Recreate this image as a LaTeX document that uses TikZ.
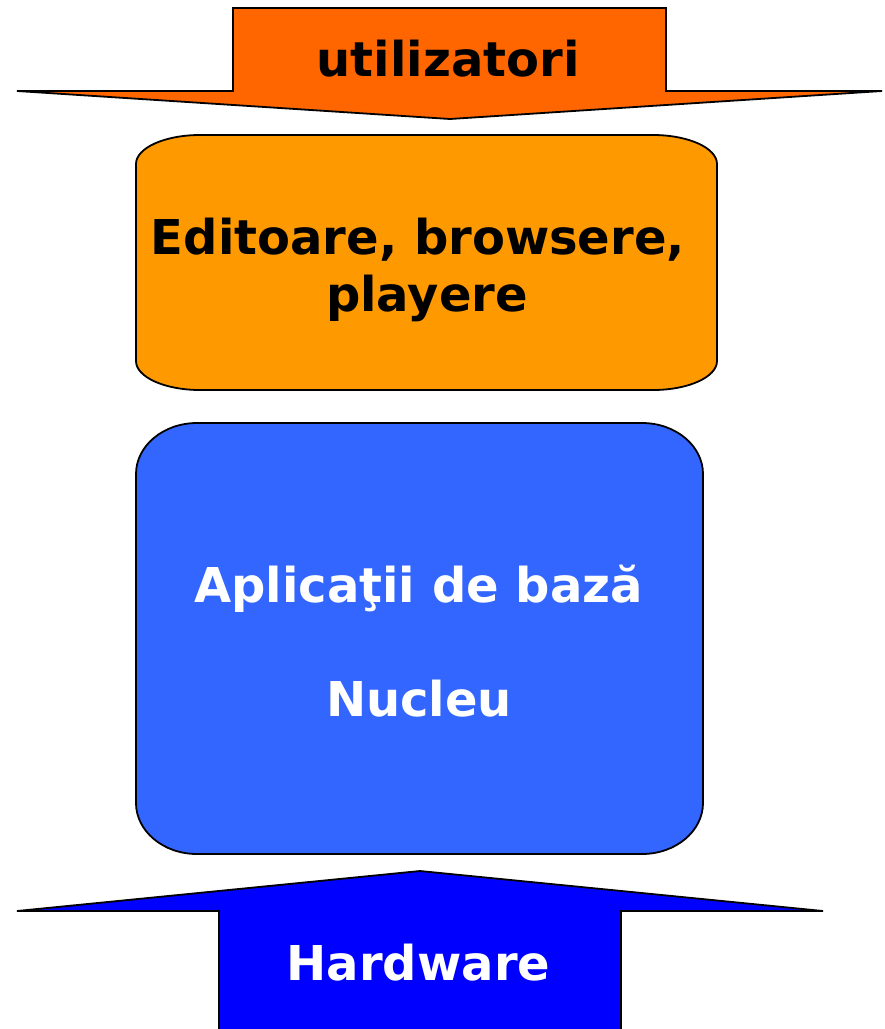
\documentclass[tikz,border=0pt]{standalone}
\usepackage{fontspec}
\setmainfont{DejaVu Sans}
\definecolor{arrowOrange}{HTML}{FF6600}
\definecolor{boxOrange}{HTML}{FF9900}
\definecolor{boxBlue}{HTML}{3366FF}
\definecolor{arrowBlue}{HTML}{0000FF}
\tikzset{
  shapeline/.style={draw=black, line width=1.8pt, line join=miter},
  bigtext/.style={inner sep=0pt, anchor=base, font=\fontsize{48}{58}\selectfont\bfseries},
}
\begin{document}
\begin{tikzpicture}[x=1pt,y=1pt]
\useasboundingbox (0,0) rectangle (885,-1029);
% top arrow
\path[shapeline, fill=arrowOrange]
  (233,-8) -- (666,-8) -- (666,-91) -- (882,-91) -- (450,-119) -- (17,-91) -- (233,-91) -- cycle;
% orange box
\path[shapeline, fill=boxOrange]
  (200,-135) -- (653,-135)
  arc[start angle=90, end angle=0, x radius=64, y radius=29] -- (717,-361)
  arc[start angle=0, end angle=-90, x radius=64, y radius=29] -- (200,-390)
  arc[start angle=270, end angle=180, x radius=64, y radius=29] -- (136,-164)
  arc[start angle=180, end angle=90, x radius=64, y radius=29] -- cycle;
% blue box
\path[shapeline, fill=boxBlue]
  (197,-423) -- (642,-423)
  arc[start angle=90, end angle=0, x radius=61, y radius=51] -- (703,-803)
  arc[start angle=0, end angle=-90, x radius=61, y radius=51] -- (197,-854)
  arc[start angle=270, end angle=180, x radius=61, y radius=51] -- (136,-474)
  arc[start angle=180, end angle=90, x radius=61, y radius=51] -- cycle;
% bottom arrow
\path[shapeline, fill=arrowBlue]
  (219,-1035) -- (219,-911) -- (17,-911) -- (420,-871) -- (823,-911) -- (621,-911) -- (621,-1035) -- cycle;
% texts
\node[bigtext] (users) at (448,-76) {utilizatori};
\node[bigtext] (apps1) at (418,-254) {Editoare, browsere,};
\node[bigtext] (apps2) at (427,-311) {playere};
\node[bigtext, text=white] (base) at (418.5,-602) {Aplicaţii de bază};
\node[bigtext, text=white] (kernel) at (419,-716) {Nucleu};
\node[bigtext, text=white] (hw) at (418.5,-980) {Hardware};
\end{tikzpicture}
\end{document}
